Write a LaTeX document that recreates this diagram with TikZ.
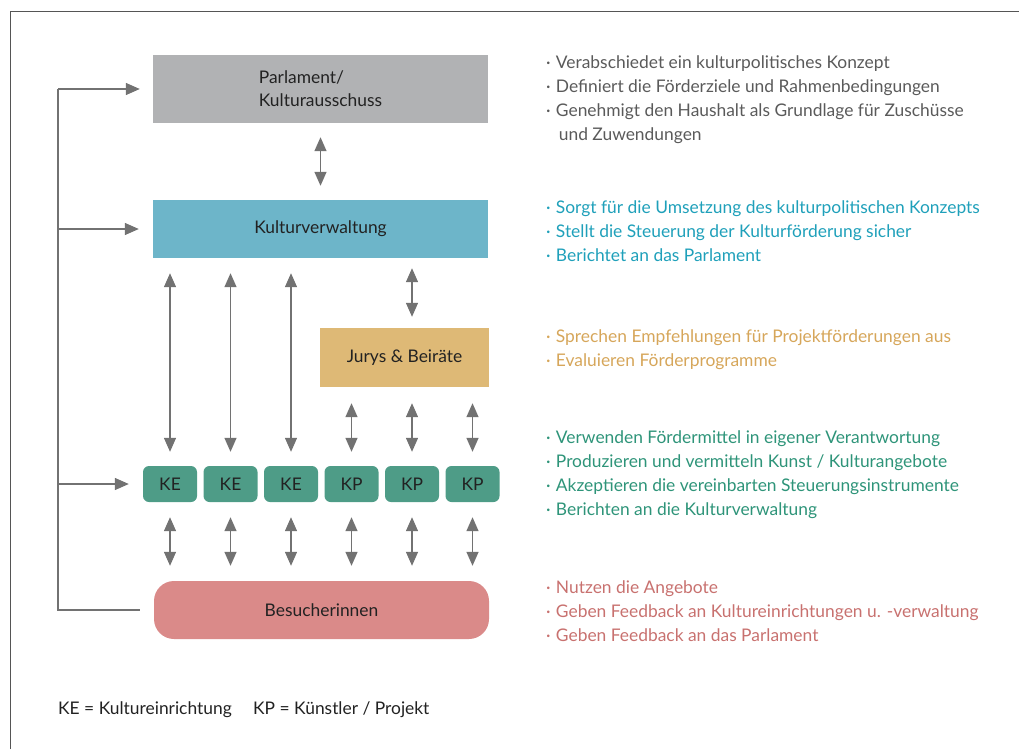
\documentclass[tikz,border=0pt]{standalone}
\usepackage{fontspec}
\setmainfont{Lato}
\usetikzlibrary{arrows.meta,calc}
\definecolor{boxgray}{HTML}{B1B2B4}
\definecolor{boxblue}{HTML}{6DB5C9}
\definecolor{boxgold}{HTML}{DEB976}
\definecolor{boxgreen}{HTML}{4E9C87}
\definecolor{boxred}{HTML}{DA8A89}
\definecolor{arrgray}{HTML}{727272}
\definecolor{framegray}{HTML}{555555}
\definecolor{txtgray}{HTML}{5A5A5A}
\definecolor{txtblue}{HTML}{1FA0BA}
\definecolor{txtgold}{HTML}{D6A65A}
\definecolor{txtgreen}{HTML}{2E9479}
\definecolor{txtred}{HTML}{C8716F}
\definecolor{txtdark}{HTML}{222222}
\tikzset{
  box/.style={fill=#1, draw=none, inner sep=0pt, text=txtdark, font=\fontsize{17.4}{23}\selectfont},
  smallbox/.style={fill=boxgreen, draw=none, rounded corners=6pt, minimum width=54pt, minimum height=36pt, inner sep=0pt, text=txtdark, font=\fontsize{17.4}{20}\selectfont},
  dbl/.style={draw=arrgray, line width=1.4pt, {Triangle[length=14pt,width=12pt]}-{Triangle[length=14pt,width=12pt]}},
  arr/.style={draw=arrgray, line width=1.4pt, -{Triangle[length=14pt,width=12pt]}},
  fbline/.style={draw=arrgray, line width=1.4pt},
  bullets/.style={anchor=north west, align=left, inner sep=0pt, font=\fontsize{17.4}{24}\selectfont, text=#1},
}
\newcommand{\bul}{·\hspace{0.3em}}
\begin{document}
\begin{tikzpicture}[x=1pt,y=-1pt]
\useasboundingbox (0,0) rectangle (1019,749);
% open frame
\draw[framegray, line width=1pt] (10,749) -- (10,12) -- (1019,12);

% main boxes
\node[box=boxgray, minimum width=335pt, minimum height=68pt, align=left] (parl) at (320.5,89) {Parlament/\\Kulturausschuss};
\node[box=boxblue, minimum width=335pt, minimum height=58pt] (kv) at (320.5,229) {Kulturverwaltung};
\node[box=boxgold, minimum width=169pt, minimum height=59pt] (jury) at (404.5,357.5) {Jurys \& Beiräte};
\node[box=boxred, minimum width=335pt, minimum height=58pt, rounded corners=20pt] (bes) at (321.5,610) {Besucherinnen};

% KE / KP
\node[smallbox] (ke1) at (170,484) {KE};
\node[smallbox] (ke2) at (230.5,484) {KE};
\node[smallbox] (ke3) at (291,484) {KE};
\node[smallbox] (kp1) at (351.5,484) {KP};
\node[smallbox] (kp2) at (412,484) {KP};
\node[smallbox] (kp3) at (472.5,484) {KP};

% vertical double arrows
\draw[dbl, shorten <=14pt, shorten >=14pt] (parl.south) -- (kv.north);
\foreach \n in {ke1,ke2,ke3}{
  \draw[dbl, shorten <=15pt, shorten >=14pt] (kv.south -| \n) -- (\n.north);
}
\draw[dbl, shorten <=10pt, shorten >=11pt] (kv.south -| kp2) -- (jury.north -| kp2);
\foreach \n in {kp1,kp2,kp3}{
  \draw[dbl, shorten <=16pt, shorten >=14pt] (jury.south -| \n) -- (\n.north);
}
\foreach \n in {ke1,ke2,ke3,kp1,kp2,kp3}{
  \draw[dbl, shorten <=15pt, shorten >=15pt] (\n.south) -- (bes.north -| \n);
}

% feedback loop
\coordinate (fbbot) at (58,610);
\coordinate (fbtop) at (58,89);
\coordinate (fbkv) at (58,229);
\coordinate (fbke) at (58,484);
\draw[fbline] ([xshift=-14pt]bes.west) -- (fbbot) -- (fbtop);
\draw[arr, shorten >=13pt] (fbtop) -- (parl.west);
\draw[arr, shorten >=14pt] (fbkv) -- (kv.west);
\draw[arr, shorten >=14pt] (fbke) -- (ke1.west);

% description texts
\node[bullets=txtgray] (tparl) at (546,55) {\bul Verabschiedet ein kulturpolitisches Konzept\\\bul Definiert die Förderziele und Rahmenbedingungen\\\bul Genehmigt den Haushalt als Grundlage für Zuschüsse\\\phantom{\bul}\,und Zuwendungen};
\node[bullets=txtblue] (tkv) at (546,200) {\bul Sorgt für die Umsetzung des kulturpolitischen Konzepts\\\bul Stellt die Steuerung der Kulturförderung sicher\\\bul Berichtet an das Parlament};
\node[bullets=txtgold] (tjury) at (546,329) {\bul Sprechen Empfehlungen für Projektförderungen aus\\\bul Evaluieren Förderprogramme};
\node[bullets=txtgreen] (tke) at (546,430) {\bul Verwenden Fördermittel in eigener Verantwortung\\\bul Produzieren und vermitteln Kunst / Kulturangebote\\\bul Akzeptieren die vereinbarten Steuerungsinstrumente\\\bul Berichten an die Kulturverwaltung};
\node[bullets=txtred] (tbes) at (546,580) {\bul Nutzen die Angebote\\\bul Geben Feedback an Kultureinrichtungen u. -verwaltung\\\bul Geben Feedback an das Parlament};

% legend
\node[anchor=west, inner sep=0pt, text=txtdark, font=\fontsize{17.4}{20}\selectfont] (leg1) at (58,710) {KE = Kultureinrichtung};
\node[anchor=west, inner sep=0pt, text=txtdark, font=\fontsize{17.4}{20}\selectfont] (leg2) at (253,710) {KP = Künstler / Projekt};
\end{tikzpicture}
\end{document}
